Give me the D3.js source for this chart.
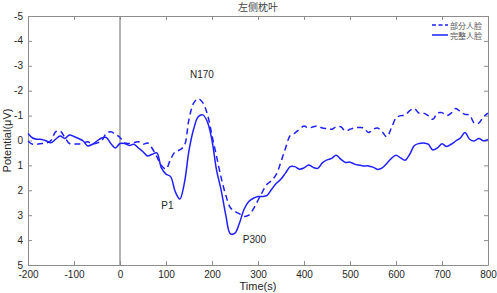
<!DOCTYPE html>
<html><head><meta charset="utf-8">
<script src="https://cdn.jsdelivr.net/npm/d3@7"></script>
<style>body{margin:0;background:#fff}svg{display:block}</style>
</head><body>
<svg id="c" width="497" height="293"></svg>
<script>
const times = d3.range(-200, 801, 10);
const solidValues = [-0.28,-0.1,-0.05,-0.04,0.02,0.09,-0.05,-0.18,-0.08,-0.22,-0.16,-0.08,0.02,0.22,0.15,0.02,-0.1,-0.12,0.12,0.3,
0.12,0.12,0.2,0.15,0.3,0.45,0.62,0.55,0.5,1.1,1.35,1.45,2.05,2.35,1.7,0.4,-0.45,-0.95,-1.03,-0.75,
0.0,1.2,2.0,3.0,3.75,3.72,3.3,2.75,2.45,2.32,2.25,2.25,2.2,1.95,1.72,1.55,1.3,1.05,1.05,1.15,
1.1,0.98,1.08,1.12,0.9,0.78,0.72,0.59,0.75,0.88,0.87,0.95,0.99,1.02,1.02,1.07,1.16,1.1,0.92,0.72,
0.59,0.7,0.79,0.55,0.2,0.12,0.1,0.15,0.38,0.3,0.13,0.24,0.15,0.02,-0.1,-0.32,-0.05,0.02,-0.08,0.01,-0.04];
const dashedValues = [0.03,0.15,0.15,0.12,0.1,0.0,-0.35,-0.38,-0.12,0.12,0.14,0.14,0.1,0.05,0.15,0.1,0.02,-0.28,-0.35,-0.25,
-0.12,0.1,0.12,0.08,0.05,0.15,0.1,0.32,0.65,1.0,1.15,0.75,0.45,0.38,0.2,-0.85,-1.5,-1.68,-1.52,-1.05,
-0.2,0.65,1.5,2.2,2.7,2.85,2.95,3.05,3.0,2.75,2.4,2.05,1.75,1.6,1.35,0.85,0.3,-0.2,-0.3,-0.45,
-0.58,-0.5,-0.55,-0.58,-0.5,-0.48,-0.45,-0.55,-0.55,-0.38,-0.45,-0.51,-0.52,-0.5,-0.32,-0.45,-0.5,-0.35,-0.15,-0.5,
-0.9,-1.0,-1.02,-1.2,-1.28,-1.1,-1.1,-1.0,-0.85,-1.1,-1.12,-1.0,-1.1,-1.29,-1.15,-1.05,-1.02,-0.7,-0.7,-0.95,-1.1];
const xTicks = d3.range(-200, 801, 100);
const yTicks = d3.range(-5, 6, 1);
const seriesNames = ["部分人脸", "完整人脸"];
const annotations = [{text:"N170", t:178, v:-2.6, anchor:"middle"}, {text:"P1", t:103, v:2.66, anchor:"middle"}, {text:"P300", t:267, v:4.0, anchor:"start"}];

const svg = d3.select("#c");
const L = 28, R = 488, T = 16, B = 265;
const x = d3.scaleLinear().domain([-200, 800]).range([L, R]);
const y = d3.scaleLinear().domain([-5, 5]).range([T, B]);
const axisColor = "#8c8c8c", textColor = "#262626";
const font = "'Liberation Sans', Arial, sans-serif";

// zero line
svg.append("line").attr("x1", x(0)).attr("x2", x(0)).attr("y1", T).attr("y2", B)
  .attr("stroke", "#b4b4b4").attr("stroke-width", 2);

// axes
const fmt = d => String(d);
const gx = svg.append("g").attr("transform", `translate(0,${B})`)
  .call(d3.axisBottom(x).tickValues(xTicks).tickFormat(fmt).tickSizeInner(-4).tickSizeOuter(0).tickPadding(5));
const gxt = svg.append("g").attr("transform", `translate(0,${T})`)
  .call(d3.axisTop(x).tickValues(xTicks).tickFormat("").tickSizeInner(-4).tickSizeOuter(0));
const gy = svg.append("g").attr("transform", `translate(${L},0)`)
  .call(d3.axisLeft(y).tickValues(yTicks).tickFormat(fmt).tickSizeInner(-4).tickSizeOuter(0).tickPadding(5));
const gyr = svg.append("g").attr("transform", `translate(${R},0)`)
  .call(d3.axisRight(y).tickValues(yTicks).tickFormat("").tickSizeInner(-4).tickSizeOuter(0));
[gx, gxt, gy, gyr].forEach(g => {
  g.selectAll("path").attr("stroke", axisColor).attr("stroke-width", 1);
  g.selectAll("line").attr("stroke", axisColor);
  g.selectAll("text").attr("fill", textColor).style("font-family", font).style("font-size", "10px");
});
gy.selectAll(".tick text").attr("dy", "0.3em");
gx.selectAll(".tick text").attr("dy", "0.75em");

// lines
const line = d3.line().x((d, i) => x(times[i])).y(d => y(d)).curve(d3.curveCatmullRom.alpha(0.5));
svg.append("path").datum(dashedValues).attr("d", line).attr("fill", "none")
  .attr("stroke", "#1f1fff").attr("stroke-width", 1.5).attr("stroke-dasharray", "6,4");
svg.append("path").datum(solidValues).attr("d", line).attr("fill", "none")
  .attr("stroke", "#1f1fff").attr("stroke-width", 1.5);

// annotations
annotations.forEach(a => {
  svg.append("text").attr("x", x(a.t)).attr("y", y(a.v)).attr("text-anchor", a.anchor)
    .attr("dominant-baseline", "middle").attr("fill", textColor)
    .style("font-family", font).style("font-size", "10px").text(a.text);
});

// title
svg.append("text").attr("x", (L + R) / 2).attr("y", 8).attr("text-anchor", "middle")
  .attr("dominant-baseline", "middle").attr("fill", "#444")
  .style("font-family", "'Noto Sans CJK SC'").style("font-size", "10px").text("左侧枕叶");

// axis labels
svg.append("text").attr("x", (L + R) / 2).attr("y", 287).attr("text-anchor", "middle")
  .attr("dominant-baseline", "middle").attr("fill", textColor)
  .style("font-family", font).style("font-size", "11px").text("Time(s)");
svg.append("text").attr("transform", `translate(8,${(T + B) / 2}) rotate(-90)`).attr("text-anchor", "middle")
  .attr("dominant-baseline", "middle").attr("fill", textColor)
  .style("font-family", font).style("font-size", "11px").text("Potential(μV)");

// legend
const legY = [25, 35];
seriesNames.forEach((n, i) => {
  svg.append("line").attr("x1", 432).attr("x2", 448).attr("y1", legY[i]).attr("y2", legY[i])
    .attr("stroke", "#1f1fff").attr("stroke-width", 1.5).attr("stroke-dasharray", i === 0 ? "4,2.5" : null);
  svg.append("text").attr("x", 450).attr("y", legY[i]).attr("dominant-baseline", "central")
    .attr("fill", "#555").style("font-family", "'Noto Sans CJK SC'").style("font-size", "8px").text(n);
});
</script>
</body></html>
